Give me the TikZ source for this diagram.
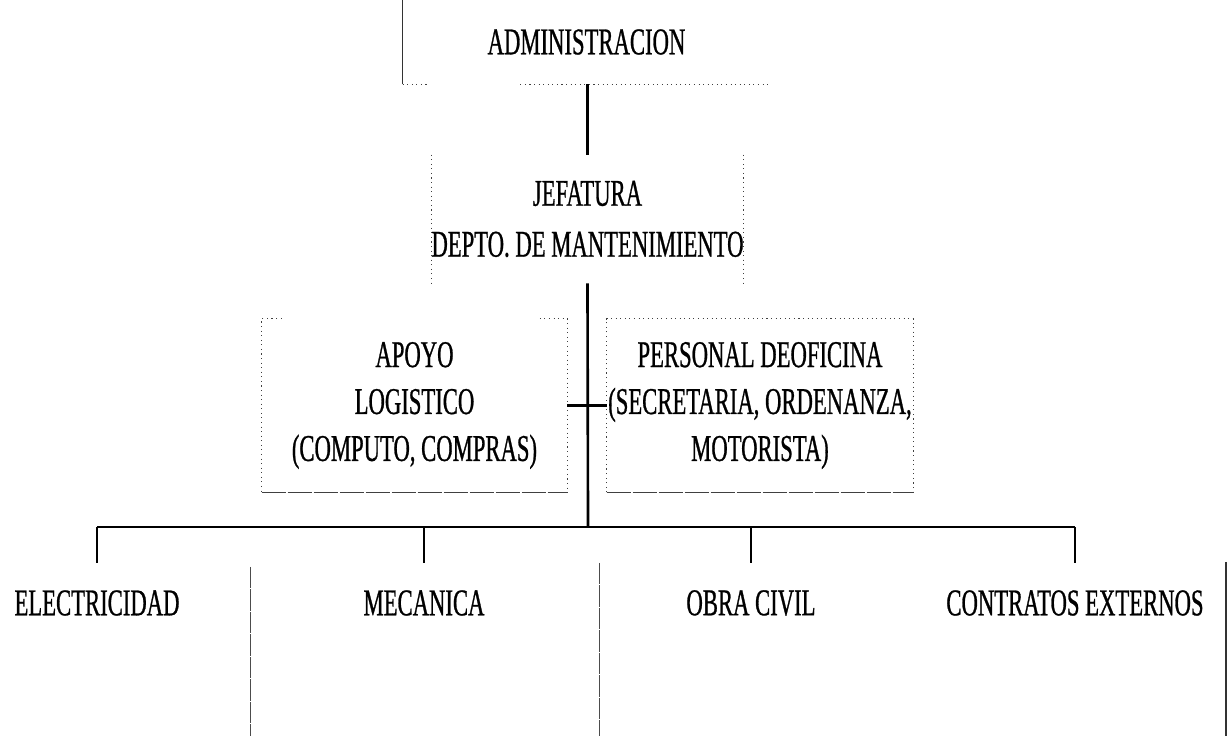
\documentclass[tikz,border=0pt]{standalone}
\usepackage{fontspec}
\setmainfont{Liberation Serif}[FakeStretch=0.6, FakeBold=0.7]
\usetikzlibrary{calc}
\tikzset{
	unit/.style={inner sep=0pt, align=center, font=\fontsize{21.5}{26.7}\selectfont},
	dotedge/.style={line width=0.6pt, dotted, color=black!75},
	baseedge/.style={line width=0.8pt, dash pattern=on 14pt off 0.8pt, color=black!75},
	link/.style={line width=1.5pt},
	drop/.style={line width=1.2pt}
}

\begin{document}
\begin{tikzpicture}
		%%%%% START %%%%%
		\useasboundingbox (0, 0) rectangle (24.62, 14.72);
		
		\node[unit, minimum width=7.34cm, minimum height=1.68cm] (admin) at (11.73, 13.88) {ADMINISTRACION};
		\draw[line width=0.6pt, color=black!80] (admin.south west) -- (admin.north west);
		\draw[dotedge] (admin.south west) -- ++(0.5, 0);
		\draw[dotedge] ($(admin.south east)+(-5.0, 0)$) -- (admin.south east);
		
		\node[unit, minimum width=6.22cm, minimum height=2.56cm] (jef) at (11.75, 10.34) {JEFATURA\\[0.08cm]DEPTO. DE MANTENIMIENTO};
		\draw[dotedge] (jef.north west) -- (jef.south west);
		\draw[dotedge] (jef.north east) -- (jef.south east);
		\draw[link] (jef.north |- admin.south) -- ++(0, -0.08) -- (jef.north);
		
		\node[unit, minimum width=6.10cm, minimum height=3.46cm] (apoyo) at (8.29, 6.61) {APOYO\\LOGISTICO\\(COMPUTO, COMPRAS)};
		\draw[dotedge] ($(apoyo.north west)+(0.4, 0)$) -- (apoyo.north west) -- (apoyo.south west);
		\draw[dotedge] ($(apoyo.north east)+(-0.55, 0)$) -- (apoyo.north east) -- (apoyo.south east);
		\draw[baseedge] (apoyo.south west) -- (apoyo.south east);
		
		\node[unit, minimum width=6.12cm, minimum height=3.46cm] (personal) at (15.20, 6.61) {PERSONAL DEOFICINA\\(SECRETARIA, ORDENANZA,\\MOTORISTA)};
		\draw[dotedge] (personal.south west) -- (personal.north west) -- (personal.north east) -- (personal.south east);
		\draw[baseedge] (personal.south west) -- (personal.south east);
		
		\draw[link] (apoyo.east) -- (personal.west);
		
		\coordinate (bus) at (11.76, 4.18);
		\draw[link] (jef.south) -- (bus);
		
		\node[unit, inner ysep=0.54cm] (elec) at (1.94, 2.66) {ELECTRICIDAD};
		\node[unit, inner ysep=0.54cm] (meca) at (8.48, 2.66) {MECANICA};
		\node[unit, inner ysep=0.54cm] (obra) at (15.02, 2.66) {OBRA CIVIL};
		\node[unit, inner ysep=0.54cm] (contra) at (21.50, 2.66) {CONTRATOS EXTERNOS};
		
		\draw[link] (elec.north |- bus) -- (contra.north |- bus);
		\foreach \u in {elec, meca, obra, contra}
			\draw[drop] (\u.north |- bus) -- (\u.north);
		
		\draw[line width=0.5pt, dash pattern=on 12pt off 0.8pt, color=black!70] (5.0, 3.38) -- (5.0, 0);
		\draw[line width=0.5pt, dash pattern=on 12pt off 0.8pt, color=black!70] (11.98, 3.46) -- (11.98, 0);
		\draw[line width=0.6pt, color=black!80] (24.52, 3.48) -- (24.52, 0);
		
		%%%%% END %%%%%
	\end{tikzpicture}
\end{document}
